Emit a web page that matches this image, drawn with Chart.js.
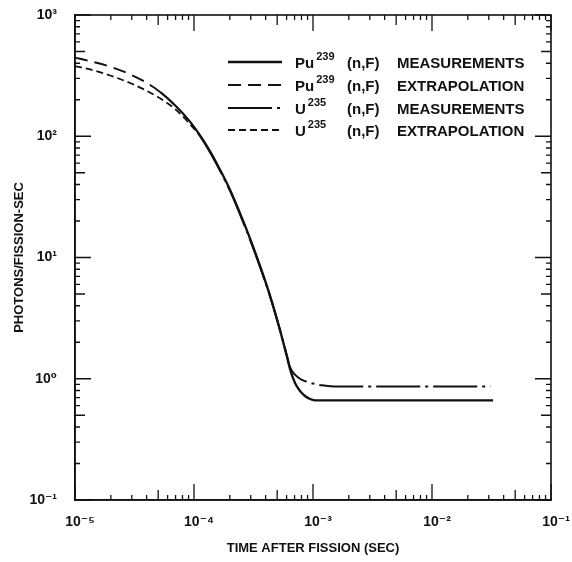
<!DOCTYPE html>
<html><head><meta charset="utf-8">
<script src="https://cdn.jsdelivr.net/npm/chart.js@4/dist/chart.umd.min.js"></script>
<style>html,body{margin:0;padding:0;background:#fff;} #wrap{width:572px;height:562px;}</style>
</head><body><div id="wrap"><canvas id="c" width="572" height="562"></canvas></div>
<script>
const FONT = "'Liberation Sans', 'DejaVu Sans', Arial, sans-serif";
const INK = '#111';

// Axis decades
const xTickValues = [1e-5, 1e-4, 1e-3, 1e-2, 1e-1];
const yTickValues = [1e-1, 1, 10, 100, 1000];

// Pu-239 (n,F): extrapolation before puMeasStart, measurements after
const puTime  = [1.0e-5, 1.34e-5, 1.97e-5, 2.90e-5, 3.87e-5, 5.18e-5, 6.92e-5, 9.25e-5, 1.12e-4, 1.36e-4, 1.65e-4, 2.01e-4, 2.44e-4, 2.96e-4, 3.59e-4, 4.36e-4, 5.28e-4, 6.05e-4, 6.41e-4, 7.06e-4, 7.78e-4, 8.57e-4, 9.44e-4, 1.04e-3, 1.19e-3, 3.26e-2];
const puValue = [445, 416, 375, 324, 281, 232, 180, 132, 102, 75.5, 53.2, 36.1, 23.1, 14.3, 8.51, 4.82, 2.52, 1.51, 1.20, 0.922, 0.792, 0.721, 0.681, 0.664, 0.662, 0.662];
const puMeasStart = 5.18e-5;

// U-235 (n,F): extrapolation before uMeasStart, measurements after
const uTime  = [1.0e-5, 1.34e-5, 1.97e-5, 2.90e-5, 3.87e-5, 5.18e-5, 6.92e-5, 9.25e-5, 1.12e-4, 1.36e-4, 1.65e-4, 2.01e-4, 2.44e-4, 2.96e-4, 3.59e-4, 4.36e-4, 5.28e-4, 6.05e-4, 6.41e-4, 7.06e-4, 7.78e-4, 8.57e-4, 9.44e-4, 1.04e-3, 1.19e-3, 1.4e-3, 1.7e-3, 3.1e-2];
const uValue = [379, 356, 317, 275, 241, 206, 168, 126, 100.5, 74, 52.2, 35.4, 22.6, 14.0, 8.35, 4.75, 2.52, 1.54, 1.25, 1.08, 1.0, 0.955, 0.925, 0.905, 0.882, 0.868, 0.863, 0.863];
const uMeasStart = 1.12e-4;

// Legend texts
const legendBase = ['Pu', 'Pu', 'U', 'U'];
const legendSup  = ['239', '239', '235', '235'];
const legendMid  = ['(n,F)', '(n,F)', '(n,F)', '(n,F)'];
const legendDesc = ['MEASUREMENTS', 'EXTRAPOLATION', 'MEASUREMENTS', 'EXTRAPOLATION'];

const SUP = {'-':'\u207B','0':'\u2070','1':'\u00B9','2':'\u00B2','3':'\u00B3','4':'\u2074','5':'\u2075','6':'\u2076','7':'\u2077','8':'\u2078','9':'\u2079'};
function powLabel(v){
  const e = Math.round(Math.log10(v));
  return '10' + String(e).split('').map(c => SUP[c]).join('');
}
function pts(xs, ys){ return xs.map((x, i) => ({x: x, y: ys[i]})); }

const DASH_PU_EX = [13, 7];
const DASH_U_ME = [44, 5, 3, 5];
const DASH_U_EX = [7, 4];

const datasets = [
  {label: 'U235 (n,F)', data: pts(uTime, uValue), borderDash: DASH_U_ME, borderWidth: 2,
   segment: {borderDash: c => c.p0.parsed.x < uMeasStart * 0.999 ? DASH_U_EX : undefined,
             borderWidth: c => c.p0.parsed.x < uMeasStart * 0.999 ? 1.8 : undefined}},
  {label: 'Pu239 (n,F)', data: pts(puTime, puValue), borderDash: [], borderWidth: 2.3,
   segment: {borderDash: c => c.p0.parsed.x < puMeasStart * 0.999 ? DASH_PU_EX : undefined,
             borderWidth: c => c.p0.parsed.x < puMeasStart * 0.999 ? 1.9 : undefined}}
].map(d => Object.assign(d, {borderColor: INK, pointRadius: 0, fill: false, cubicInterpolationMode: 'monotone'}));

const legendDash = [[], DASH_PU_EX, DASH_U_ME, DASH_U_EX];
const legendWidth = [2.3, 1.9, 2, 1.8];

const frameTicks = {
  id: 'frameTicks',
  afterDatasetsDraw(chart){
    const {ctx, chartArea: a, scales: {x, y}} = chart;
    ctx.save();
    ctx.strokeStyle = INK; ctx.lineWidth = 1.6; ctx.setLineDash([]);
    ctx.strokeRect(a.left, a.top, a.right - a.left, a.bottom - a.top);
    ctx.lineWidth = 1.3;
    const len = m => m === 1 ? 16 : (m === 5 ? 10 : 5);
    for (let e = -5; e <= -1; e++) {
      for (let m = 1; m <= 9; m++) {
        const v = m * Math.pow(10, e);
        if (v > 0.1000001) continue;
        const px = x.getPixelForValue(v);
        ctx.beginPath();
        ctx.moveTo(px, a.bottom); ctx.lineTo(px, a.bottom - len(m));
        ctx.moveTo(px, a.top); ctx.lineTo(px, a.top + len(m));
        ctx.stroke();
      }
    }
    for (let e = -1; e <= 3; e++) {
      for (let m = 1; m <= 9; m++) {
        const v = m * Math.pow(10, e);
        if (v > 1000.0001) continue;
        const py = y.getPixelForValue(v);
        ctx.beginPath();
        ctx.moveTo(a.left, py); ctx.lineTo(a.left + len(m), py);
        ctx.moveTo(a.right, py); ctx.lineTo(a.right - len(m), py);
        ctx.stroke();
      }
    }
    ctx.restore();
  }
};

const customLegend = {
  id: 'customLegend',
  afterDraw(chart){
    const ctx = chart.ctx;
    ctx.save();
    const x0 = 228, x1 = 282, tx = 295, midX = 347, descX = 397;
    const rows = [62, 85, 108, 130];
    for (let i = 0; i < rows.length; i++) {
      const ry = rows[i];
      ctx.strokeStyle = INK; ctx.lineWidth = legendWidth[i];
      ctx.setLineDash(legendDash[i]);
      ctx.beginPath(); ctx.moveTo(x0, ry); ctx.lineTo(x1, ry); ctx.stroke();
      ctx.setLineDash([]);
      ctx.fillStyle = INK;
      ctx.textBaseline = 'alphabetic'; ctx.textAlign = 'left';
      ctx.font = 'bold 15px ' + FONT;
      ctx.fillText(legendBase[i], tx, ry + 5.5);
      const bw = ctx.measureText(legendBase[i]).width;
      ctx.fillText(legendMid[i], midX, ry + 5.5);
      ctx.fillText(legendDesc[i], descX, ry + 5.5);
      ctx.font = 'bold 11px ' + FONT;
      ctx.fillText(legendSup[i], tx + bw + 2, ry - 2.5);
    }
    ctx.restore();
  }
};

new Chart(document.getElementById('c'), {
  type: 'line',
  data: {datasets: datasets},
  plugins: [frameTicks, customLegend],
  options: {
    responsive: false,
    animation: false,
    events: [],
    layout: {padding: {top: 15, right: 21, bottom: 0, left: 0}},
    plugins: {legend: {display: false}, tooltip: {enabled: false}},
    scales: {
      x: {
        type: 'logarithmic', min: 1e-5, max: 1e-1,
        afterBuildTicks(s){ s.ticks = xTickValues.map(v => ({value: v})); },
        afterFit(s){ s.height = 62; s.paddingLeft = 0; s.paddingRight = 0; },
        grid: {display: false, drawTicks: false},
        border: {display: true, color: INK, width: 1.6},
        ticks: {autoSkip: false, maxRotation: 0, padding: 14, labelOffset: 5, color: INK,
                font: {family: FONT, size: 14, weight: 'bold'}, callback: v => powLabel(v)},
        title: {display: true, text: 'TIME AFTER FISSION (SEC)', color: INK,
                font: {family: FONT, size: 13, weight: 'bold'}, padding: {top: 0, bottom: 6}}
      },
      y: {
        type: 'logarithmic', min: 1e-1, max: 1e3,
        afterBuildTicks(s){ s.ticks = yTickValues.map(v => ({value: v})); },
        afterFit(s){ s.width = 75; s.paddingTop = 0; s.paddingBottom = 0; },
        grid: {display: false, drawTicks: false},
        border: {display: true, color: INK, width: 1.6},
        ticks: {autoSkip: false, padding: 18, color: INK,
                font: {family: FONT, size: 14, weight: 'bold'}, callback: v => powLabel(v)},
        title: {display: true, text: 'PHOTONS/FISSION-SEC', color: INK,
                font: {family: FONT, size: 13, weight: 'bold'}, padding: {top: 12, bottom: 0}}
      }
    }
  }
});
</script>
</body></html>
